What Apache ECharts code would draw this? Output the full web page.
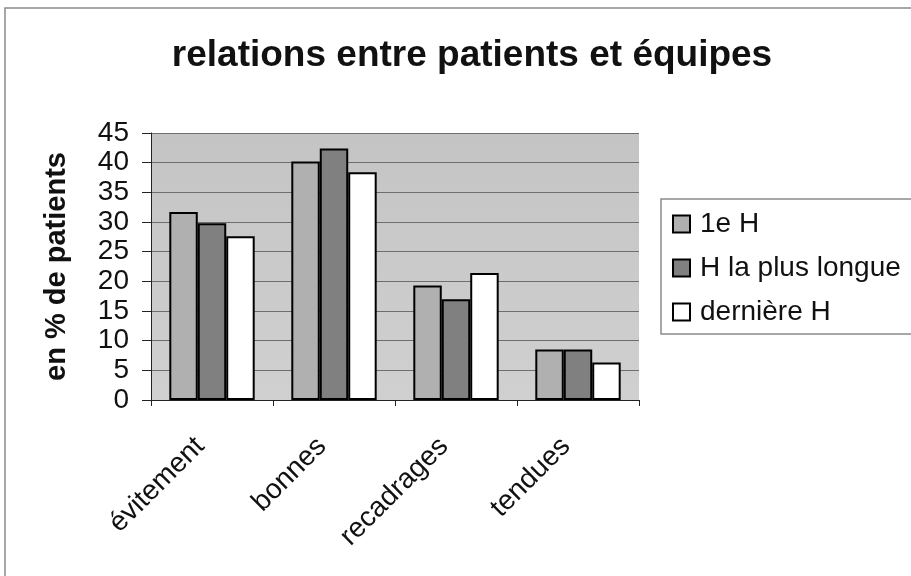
<!DOCTYPE html>
<html>
<head>
<meta charset="utf-8">
<script src="https://cdn.jsdelivr.net/npm/echarts@6/dist/echarts.min.js"></script>
<style>
  html, body { margin: 0; padding: 0; background: #ffffff; }
  #chart { width: 911px; height: 576px; }
</style>
</head>
<body>
<div id="chart"></div>
<script>
// Categories and values (% of patients)
const categories = ['évitement', 'bonnes', 'recadrages', 'tendues'];
const seriesNames = ['1e H', 'H la plus longue', 'dernière H'];
const premiereH = [31.7, 40.2, 19.3, 8.5];
const plusLongueH = [29.8, 42.4, 17.0, 8.5];
const derniereH = [27.6, 38.4, 21.4, 6.3];
const yTicks = { min: 0, max: 45, interval: 5 };

const FONT = '"Liberation Sans", Arial, sans-serif';
const fills = ['#b0b0b0', '#808080', '#ffffff'];
const values = [premiereH, plusLongueH, derniereH];

const chart = echarts.init(document.getElementById('chart'), null, { renderer: 'canvas' });

chart.setOption({
  backgroundColor: '#ffffff',
  animation: false,
  title: {
    text: 'relations entre patients et équipes',
    left: 467,
    textAlign: 'center',
    top: 32,
    textStyle: { fontFamily: FONT, fontWeight: 'bold', fontSize: 37, color: '#111' }
  },
  graphic: [
    {
      type: 'rect',
      shape: { x: 5, y: 8, width: 1000, height: 1000 },
      style: { fill: 'none', stroke: '#8a8a8a', lineWidth: 1.5 },
      silent: true
    }
  ],
  legend: {
    orient: 'vertical',
    left: 661,
    top: 199,
    padding: [11, 400, 8, 11],
    itemGap: 16,
    itemWidth: 17,
    itemHeight: 17,
    icon: 'rect',
    borderColor: '#8a8a8a',
    borderWidth: 1.5,
    backgroundColor: '#ffffff',
    textStyle: { fontFamily: FONT, fontSize: 28, color: '#111', padding: [0, 0, 0, 5] },
    data: seriesNames
  },
  grid: {
    left: 151,
    right: 272,
    top: 133,
    bottom: 176,
    show: true,
    backgroundColor: {
      type: 'linear', x: 0, y: 0, x2: 0, y2: 1,
      colorStops: [
        { offset: 0, color: '#c4c4c4' },
        { offset: 1, color: '#d0d0d0' }
      ]
    },
    borderWidth: 0
  },
  xAxis: {
    type: 'category',
    data: categories,
    axisLine: { lineStyle: { color: '#222', width: 1 } },
    axisTick: { show: true, length: 6, lineStyle: { color: '#222' } },
    axisLabel: {
      rotate: 45,
      margin: 30,
      padding: [0, 17, 0, 0],
      fontFamily: FONT,
      fontSize: 28,
      color: '#111'
    },
    splitLine: { show: false }
  },
  yAxis: {
    type: 'value',
    min: yTicks.min,
    max: yTicks.max,
    interval: yTicks.interval,
    name: 'en % de patients',
    nameLocation: 'middle',
    nameGap: 80,
    nameTextStyle: { fontFamily: FONT, fontWeight: 'bold', fontSize: 29, color: '#111' },
    axisLine: { show: true, lineStyle: { color: '#222', width: 1 } },
    axisTick: { show: true, length: 9, lineStyle: { color: '#222' } },
    axisLabel: { fontFamily: FONT, fontSize: 28, color: '#111', margin: 22 },
    splitLine: { show: true, lineStyle: { color: '#6e6e6e', width: 1 } }
  },
  series: seriesNames.map((name, i) => ({
    name: name,
    type: 'bar',
    data: values[i],
    barGap: '0%',
    barCategoryGap: '30%',
    itemStyle: { color: fills[i], borderColor: '#000', borderWidth: 2 }
  }))
});
</script>
</body>
</html>
